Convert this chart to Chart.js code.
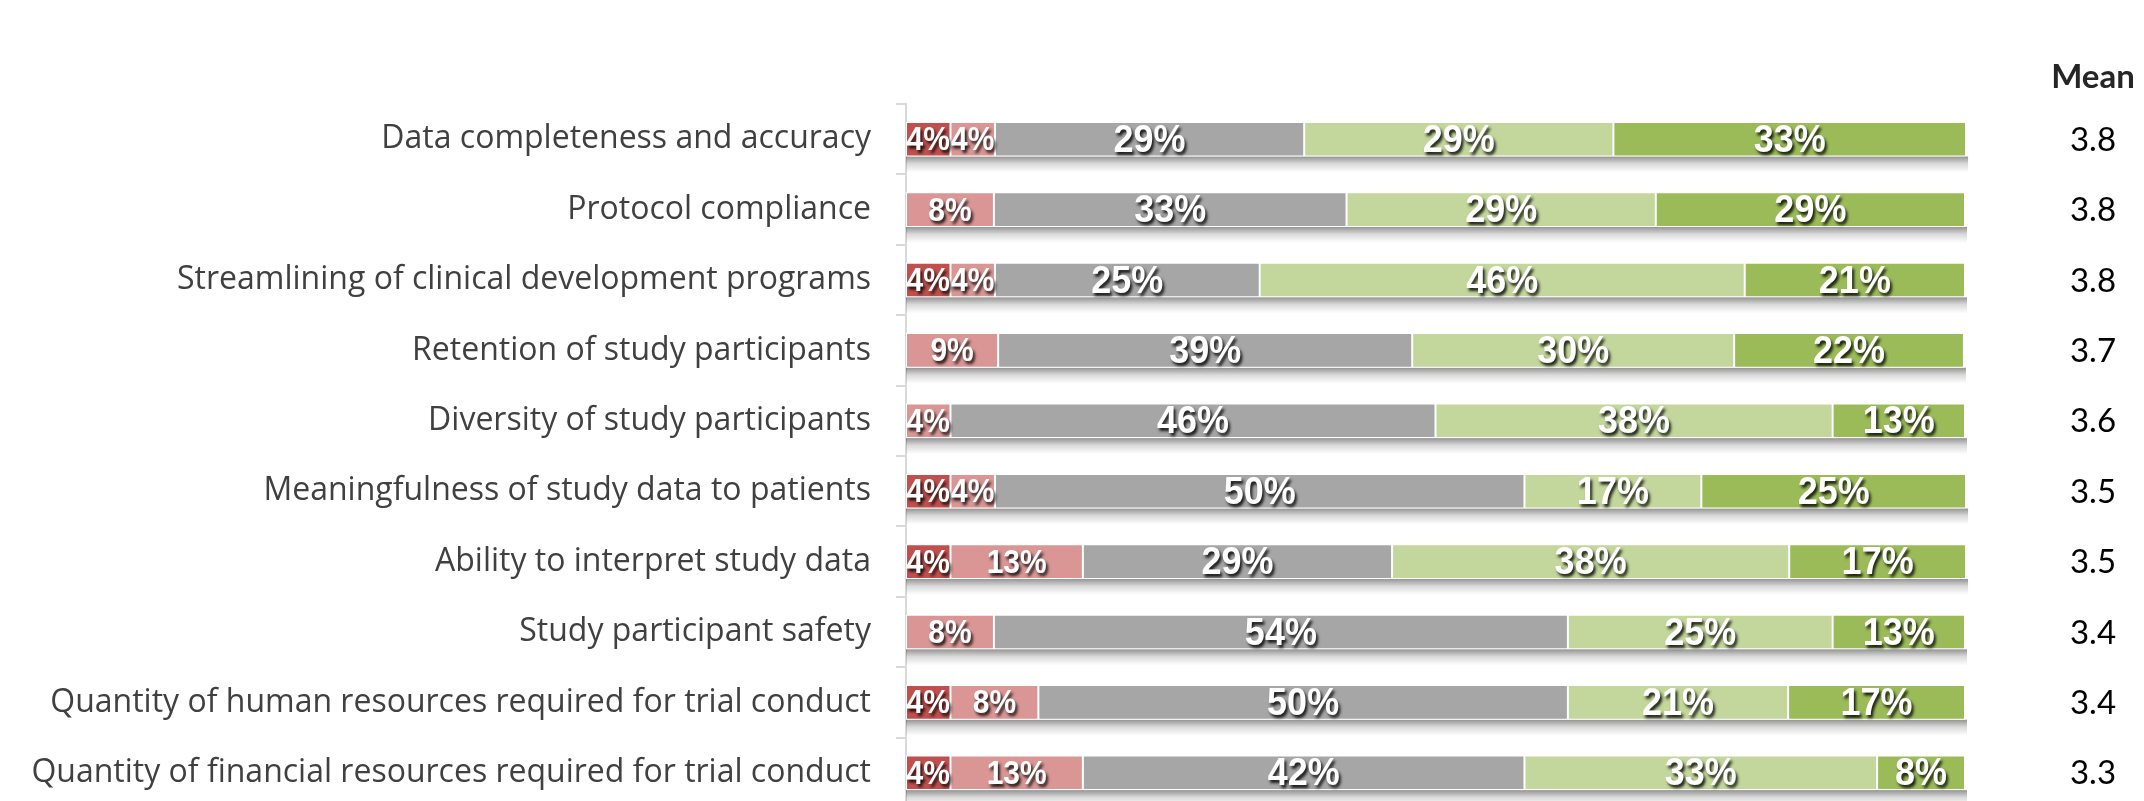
<!DOCTYPE html>
<html>
<head>
<meta charset="utf-8">
<script src="https://cdn.jsdelivr.net/npm/chart.js@4.4.1/dist/chart.umd.min.js"></script>
<style>
html,body{margin:0;padding:0;background:#fff;overflow:hidden}
canvas{display:block}
</style>
</head>
<body>
<canvas id="c" width="2144" height="801"></canvas>
<script>
// ---- data ----
const categories = [
  'Data completeness and accuracy',
  'Protocol compliance',
  'Streamlining of clinical development programs',
  'Retention of study participants',
  'Diversity of study participants',
  'Meaningfulness of study data to patients',
  'Ability to interpret study data',
  'Study participant safety',
  'Quantity of human resources required for trial conduct',
  'Quantity of financial resources required for trial conduct'
];
const seriesNames = ['Rating 1', 'Rating 2', 'Rating 3', 'Rating 4', 'Rating 5'];
const rating1 = [4.2, 0, 4.2, 0, 0, 4.2, 4.2, 0, 4.2, 4.2];
const rating2 = [4.2, 8.3, 4.2, 8.7, 4.2, 4.2, 12.5, 8.3, 8.3, 12.5];
const rating3 = [29.2, 33.3, 25.0, 39.1, 45.8, 50.0, 29.2, 54.2, 50.0, 41.7];
const rating4 = [29.2, 29.2, 45.8, 30.4, 37.5, 16.7, 37.5, 25.0, 20.8, 33.3];
const rating5 = [33.3, 29.2, 20.8, 21.7, 12.5, 25.0, 16.7, 12.5, 16.7, 8.3];
const meanLabels = ['3.8', '3.8', '3.8', '3.7', '3.6', '3.5', '3.5', '3.4', '3.4', '3.3'];
const meanHeader = 'Mean';

const seriesValues = [rating1, rating2, rating3, rating4, rating5];
const seriesColors = ['#C0504D', '#D99694', '#A6A6A6', '#C3D69B', '#9BBB59'];
const labelSizes = [30, 30, 36, 36, 36];
const labelStretch = [1.1, 1.1, 1.06, 1.06, 1.06];

const MEAN_COL_CENTER = 2093;
const PLOT_OVERHANG = 7; // the reference crops the plot area slightly below the window

// the plot area in the reference runs a few pixels past the bottom edge
const extendPlot = {
  id: 'extendPlot',
  afterLayout(chart) {
    const s = chart.scales.y;
    s._endPixel += PLOT_OVERHANG;
    s._length += PLOT_OVERHANG;
  }
};

// shadow under each bar row
const barShadow = {
  id: 'barShadow',
  beforeDatasetsDraw(chart) {
    const ctx = chart.ctx;
    const xs = chart.scales.x;
    const left = xs.getPixelForValue(0);
    const n = chart.data.labels.length;
    for (let i = 0; i < n; i++) {
      let right = left, y = null, h = 0;
      chart.data.datasets.forEach((ds, d) => {
        const el = chart.getDatasetMeta(d).data[i];
        if (!el) return;
        if (y === null) { y = el.y; h = el.height; }
        if (ds.data[i] > 0) right = Math.max(right, el.x);
      });
      if (y === null) continue;
      const top = y + h / 2;
      const g = ctx.createLinearGradient(0, top, 0, top + 16);
      g.addColorStop(0, 'rgba(0,0,0,0.42)');
      g.addColorStop(0.45, 'rgba(0,0,0,0.15)');
      g.addColorStop(1, 'rgba(0,0,0,0)');
      ctx.save();
      ctx.fillStyle = g;
      ctx.fillRect(left, top, right - left + 2, 16);
      ctx.restore();
    }
  }
};

// white labels with dark drop shadow inside each segment
const segLabels = {
  id: 'segLabels',
  afterDatasetsDraw(chart) {
    const ctx = chart.ctx;
    chart.data.datasets.forEach((ds, d) => {
      const meta = chart.getDatasetMeta(d);
      const k = labelStretch[d];
      meta.data.forEach((el, i) => {
        const v = ds.data[i];
        if (!(v > 0)) return;
        const cx = (el.x + el.base) / 2;
        const cy = el.y + 2;
        ctx.save();
        ctx.translate(cx, cy);
        ctx.scale(1, k);
        ctx.font = 'bold ' + labelSizes[d] + 'px "Liberation Sans", Arial, sans-serif';
        ctx.textAlign = 'center';
        ctx.textBaseline = 'middle';
        ctx.fillStyle = '#ffffff';
        ctx.shadowColor = 'rgba(0,0,0,0.85)';
        ctx.shadowOffsetX = 2;
        ctx.shadowOffsetY = 3;
        ctx.shadowBlur = 3;
        ctx.fillText(Math.round(v) + '%', 0, 0);
        ctx.restore();
      });
    });
  }
};

// "Mean" column on the right, one value per category row
const meanColumn = {
  id: 'meanColumn',
  afterDraw(chart) {
    const ctx = chart.ctx;
    const ys = chart.scales.y;
    ctx.save();
    ctx.textAlign = 'center';
    ctx.textBaseline = 'middle';
    ctx.font = 'bold 33px Lato, sans-serif';
    ctx.fillStyle = '#262626';
    ctx.fillText(meanHeader, MEAN_COL_CENTER, chart.chartArea.top - 27);
    ctx.font = '33px Lato, sans-serif';
    ctx.fillStyle = '#000000';
    meanLabels.forEach((m, i) => {
      ctx.fillText(m, MEAN_COL_CENTER, ys.getPixelForValue(i) + 1);
    });
    ctx.restore();
  }
};

new Chart(document.getElementById('c'), {
  type: 'bar',
  data: {
    labels: categories,
    datasets: seriesValues.map((vals, k) => ({
      label: seriesNames[k],
      data: vals,
      backgroundColor: seriesColors[k],
      borderColor: '#ffffff',
      borderWidth: 1,
      borderSkipped: false,
      barPercentage: 0.82,
      categoryPercentage: 0.6
    }))
  },
  options: {
    indexAxis: 'y',
    responsive: false,
    animation: false,
    layout: { padding: { top: 104, bottom: 0, left: 0, right: 179 } },
    plugins: {
      legend: { display: false },
      tooltip: { enabled: false },
      title: { display: false }
    },
    scales: {
      x: {
        type: 'linear',
        stacked: true,
        min: 0,
        max: 100,
        display: false
      },
      y: {
        type: 'category',
        stacked: true,
        position: 'left',
        offset: true,
        afterFit(scale) {
          scale.width = 906;
          scale.paddingTop = 0;
          scale.paddingBottom = 0;
        },
        border: { display: true, color: '#D9D9D9', width: 2 },
        grid: {
          display: true,
          drawOnChartArea: false,
          drawTicks: true,
          tickLength: 10,
          color: '#D9D9D9',
          lineWidth: 2,
          offset: true
        },
        ticks: {
          padding: 25,
          color: '#404040',
          font: { family: '"Open Sans", sans-serif', size: 32 }
        }
      }
    }
  },
  plugins: [extendPlot, barShadow, segLabels, meanColumn]
});
</script>
</body>
</html>
